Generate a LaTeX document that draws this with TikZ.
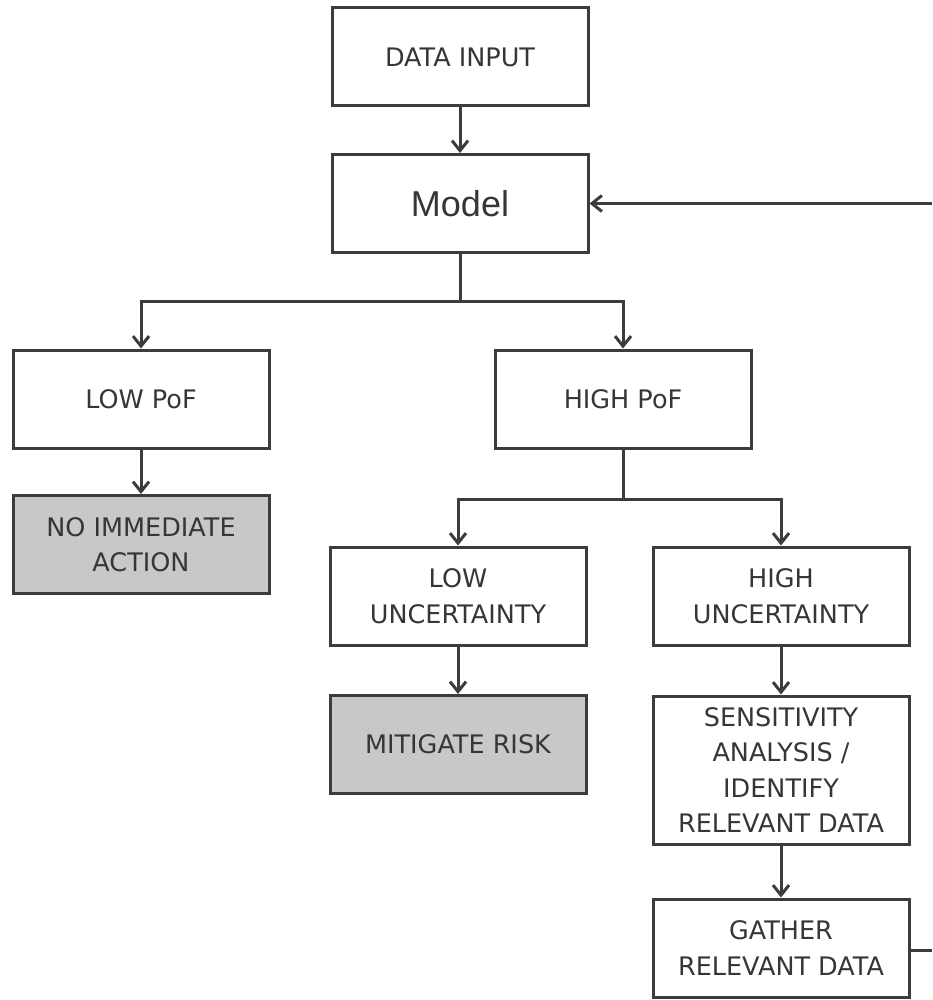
\documentclass[tikz,border=0pt]{standalone}
\usepackage{fontspec}
\setmainfont{DejaVu Sans}
\newfontfamily\modelfont{Liberation Sans}
\usetikzlibrary{arrows.meta}
\definecolor{linec}{HTML}{3C3C3C}
\definecolor{boxfill}{HTML}{C8C8C8}
\definecolor{textc}{HTML}{363636}
\tikzset{
  box/.style={draw=linec, line width=3pt, minimum width=256pt, minimum height=98pt,
    align=center, text=textc, font=\fontsize{25.5}{35.5}\selectfont, inner sep=2pt},
  greybox/.style={box, fill=boxfill},
  conn/.style={draw=linec, line width=3pt},
  arr/.style={conn, -{Straight Barb[length=10pt,width=16pt]}}
}
\begin{document}
\begin{tikzpicture}[x=1pt,y=-1pt]
\useasboundingbox (0,0) rectangle (932,1000);
\node[box] (input) at (460,57) {DATA INPUT};
\node[box, font=\modelfont\fontsize{36}{40}\selectfont] (model) at (460,203.5) {Model};
\node[box] (lowpof) at (141,399) {LOW PoF};
\node[box] (highpof) at (623,399) {HIGH PoF};
\node[greybox] (noaction) at (141,544.5) {NO IMMEDIATE\\ACTION};
\node[box] (lowunc) at (458,596) {LOW\\UNCERTAINTY};
\node[box] (highunc) at (781,596) {HIGH\\UNCERTAINTY};
\node[greybox] (mitigate) at (458,744.5) {MITIGATE RISK};
\node[box, minimum height=148pt] (sens) at (781,770) {SENSITIVITY\\ANALYSIS /\\IDENTIFY\\RELEVANT DATA};
\node[box] (gather) at (781,948) {GATHER\\RELEVANT DATA};
\coordinate (j1) at (460,301);
\coordinate (j2) at (623,499);
\coordinate (rin) at (932,203.5);
\coordinate (rout) at (932,950);
\draw[arr] (input) -- (model);
\draw[conn] (model.south) -- (j1);
\draw[arr] (j1) -| (lowpof.north);
\draw[arr] (j1) -| (highpof.north);
\draw[arr] (lowpof) -- (noaction);
\draw[conn] (highpof.south) -- (j2);
\draw[arr] (j2) -| (lowunc.north);
\draw[arr] (j2) -| (highunc.north);
\draw[arr] (lowunc) -- (mitigate);
\draw[arr] (highunc) -- (sens);
\draw[arr] (sens) -- (gather);
\draw[conn] (gather.east |- rout) -- (rout);
\draw[arr] (rin) -- (model.east);
\end{tikzpicture}
\end{document}
